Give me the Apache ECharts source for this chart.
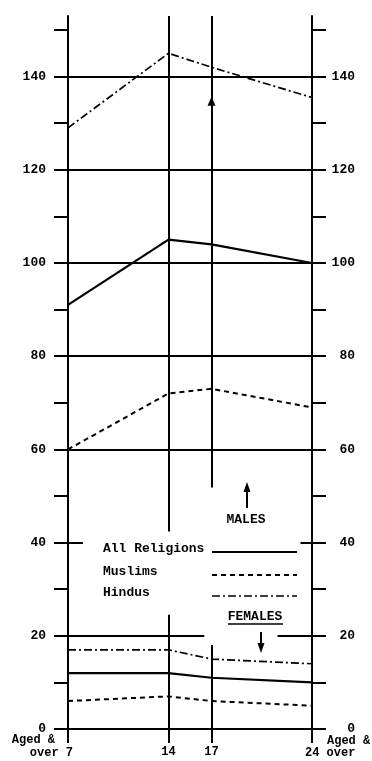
<!DOCTYPE html>
<html>
<head>
<meta charset="utf-8">
<script src="https://cdn.jsdelivr.net/npm/echarts@6/dist/echarts.min.js"></script>
<style>
  html, body { margin: 0; padding: 0; background: #fff; }
  #chart { width: 372px; height: 761px; }
</style>
</head>
<body>
<div id="chart"></div>
<script>
// Ages at which literacy is measured (x positions of the joined points)
var ages = [7, 14, 17, 24];

// Males (upper block)
var malesAll = [91, 105, 104, 100];
var malesMuslims = [60, 72, 73, 69];
var malesHindus = [129, 145, 142, 135.5];

// Females (lower block)
var femalesAll = [12, 12, 11, 10];
var femalesMuslims = [6, 7, 6, 5];
var femalesHindus = [17, 17, 15, 14];

// Axis ticks and labels
var yTicks = [0, 10, 20, 30, 40, 50, 60, 70, 80, 90, 100, 110, 120, 130, 140, 150];
var yLabels = [0, 20, 40, 60, 80, 100, 120, 140];
var xTicks = [7, 14, 17, 24];
var xInnerLabels = [14, 17];
var fullRules = [60, 80, 100, 120, 140];

var legendNames = ['All Religions', 'Muslims', 'Hindus'];

var FONT = '"Liberation Mono", "DejaVu Sans Mono", monospace';
var INK = '#000';

var styles = {
  'All Religions': { type: 'solid', width: 2.2 },
  'Muslims': { type: [5, 4], width: 2 },
  'Hindus': { type: [8, 3, 2, 3], width: 1.7 }
};

function pairs(values) {
  return ages.map(function (a, i) { return [a, values[i]]; });
}

function lineSeries(name, values, extra) {
  var s = {
    name: name,
    type: 'line',
    data: pairs(values),
    symbol: 'none',
    silent: true,
    animation: false,
    lineStyle: { color: INK, width: styles[name].width, type: styles[name].type, cap: 'butt' }
  };
  if (extra) { for (var k in extra) s[k] = extra[k]; }
  return s;
}

// Rules drawn inside the plot: full horizontals, broken 20 line, 40 stubs, the two age verticals
var ruleStyle = { color: INK, width: 2, type: 'solid' };
function seg(x1, y1, x2, y2) {
  return [{ coord: [x1, y1] }, { coord: [x2, y2] }];
}
var ruleData = fullRules.map(function (v) { return { yAxis: v }; }).concat([
  seg(7, 20, 16.5, 20),
  seg(21.6, 20, 24, 20),
  seg(7, 40, 8.05, 40),
  seg(23.2, 40, 24, 40),
  seg(14, 153, 14, 42.4),
  seg(14, 24.5, 14, 0),
  seg(17, 153, 17, 51.8),
  seg(17, 18, 17, 0)
]);

var chart = echarts.init(document.getElementById('chart'), null, { renderer: 'canvas' });

var yAxisBase = function (pos, margin, align) {
  return {
    type: 'value',
    position: pos,
    min: 0,
    max: 153,
    axisLine: { show: true, lineStyle: { color: INK, width: 2 } },
    axisTick: { show: true, customValues: yTicks, length: 14, lineStyle: { color: INK, width: 2 } },
    axisLabel: {
      show: true,
      customValues: yLabels,
      margin: margin,
      align: align,
      color: INK,
      fontFamily: FONT,
      fontWeight: 'bold',
      fontSize: 13,
      padding: [0, 0, 5, 0]
    },
    splitLine: { show: false }
  };
};

var option = {
  animation: false,
  backgroundColor: '#fff',
  grid: { left: 68, right: 60, top: 16, bottom: 32, containLabel: false, outerBoundsMode: 'none' },
  xAxis: {
    type: 'value',
    min: 7,
    max: 24,
    axisLine: { show: true, lineStyle: { color: INK, width: 2 } },
    axisTick: { show: true, customValues: xTicks, length: 14, lineStyle: { color: INK, width: 2 } },
    axisLabel: {
      show: true,
      customValues: xInnerLabels,
      margin: 17,
      color: INK,
      fontFamily: FONT,
      fontWeight: 'bold',
      fontSize: 12
    },
    splitLine: { show: false }
  },
  yAxis: [yAxisBase('left', 22, 'right'), yAxisBase('right', 43, 'right')],
  series: [
    lineSeries('All Religions', malesAll, {
      markLine: {
        silent: true,
        symbol: 'none',
        animation: false,
        label: { show: false },
        lineStyle: ruleStyle,
        data: ruleData
      }
    }),
    lineSeries('Muslims', malesMuslims),
    lineSeries('Hindus', malesHindus),
    lineSeries('All Religions', femalesAll),
    lineSeries('Muslims', femalesMuslims),
    lineSeries('Hindus', femalesHindus)
  ]
};

chart.setOption(option);

// Annotations: key, MALES / FEMALES pointers, the end-of-axis age captions
var p7 = chart.convertToPixel({ gridIndex: 0 }, [7, 0]);
var p24 = chart.convertToPixel({ gridIndex: 0 }, [24, 0]);
var pMark = chart.convertToPixel({ gridIndex: 0 }, [17, 134.6]);

var textStyle = function (txt, x, y, size, align) {
  return {
    type: 'text',
    x: x,
    y: y,
    silent: true,
    style: {
      text: txt,
      fill: INK,
      font: 'bold ' + size + 'px ' + FONT,
      align: align || 'left',
      verticalAlign: 'middle'
    }
  };
};

var graphics = [];
var keyRows = [549, 572, 593];
legendNames.forEach(function (name, i) {
  graphics.push(textStyle(name, 103, keyRows[i], 13, 'left'));
  graphics.push({
    type: 'line',
    silent: true,
    shape: { x1: 212, y1: keyRows[i] + 3, x2: 297, y2: keyRows[i] + 3 },
    style: { stroke: INK, lineWidth: styles[name].width, lineDash: styles[name].type === 'solid' ? null : styles[name].type }
  });
});

// MALES pointer
graphics.push({ type: 'line', silent: true, shape: { x1: 247, y1: 489, x2: 247, y2: 508 }, style: { stroke: INK, lineWidth: 2 } });
graphics.push({ type: 'polygon', silent: true, shape: { points: [[247, 482], [243.5, 492], [250.5, 492]] }, style: { fill: INK } });
graphics.push(textStyle('MALES', 246, 520, 13, 'center'));

// FEMALES pointer
graphics.push(textStyle('FEMALES', 255, 617, 13, 'center'));
graphics.push({ type: 'line', silent: true, shape: { x1: 228, y1: 624, x2: 283, y2: 624 }, style: { stroke: INK, lineWidth: 1.5 } });
graphics.push({ type: 'line', silent: true, shape: { x1: 261, y1: 632, x2: 261, y2: 645 }, style: { stroke: INK, lineWidth: 2 } });
graphics.push({ type: 'polygon', silent: true, shape: { points: [[261, 653], [257.5, 643], [264.5, 643]] }, style: { fill: INK } });

// small arrowhead on the age-17 rule
graphics.push({ type: 'polygon', silent: true, shape: { points: [[pMark[0], pMark[1] - 5], [pMark[0] - 4, pMark[1] + 4], [pMark[0] + 4, pMark[1] + 4]] }, style: { fill: INK } });

// end captions under the age axis
graphics.push(textStyle('Aged &', p7[0] - 13, p7[1] + 11, 12, 'right'));
graphics.push(textStyle('over 7', p7[0] + 5, p7[1] + 24, 12, 'right'));
graphics.push(textStyle('Aged &', p24[0] + 15, p24[1] + 12, 12, 'left'));
graphics.push(textStyle('24 over', p24[0] - 7, p24[1] + 24, 12, 'left'));

chart.setOption({ graphic: graphics });
</script>
</body>
</html>
